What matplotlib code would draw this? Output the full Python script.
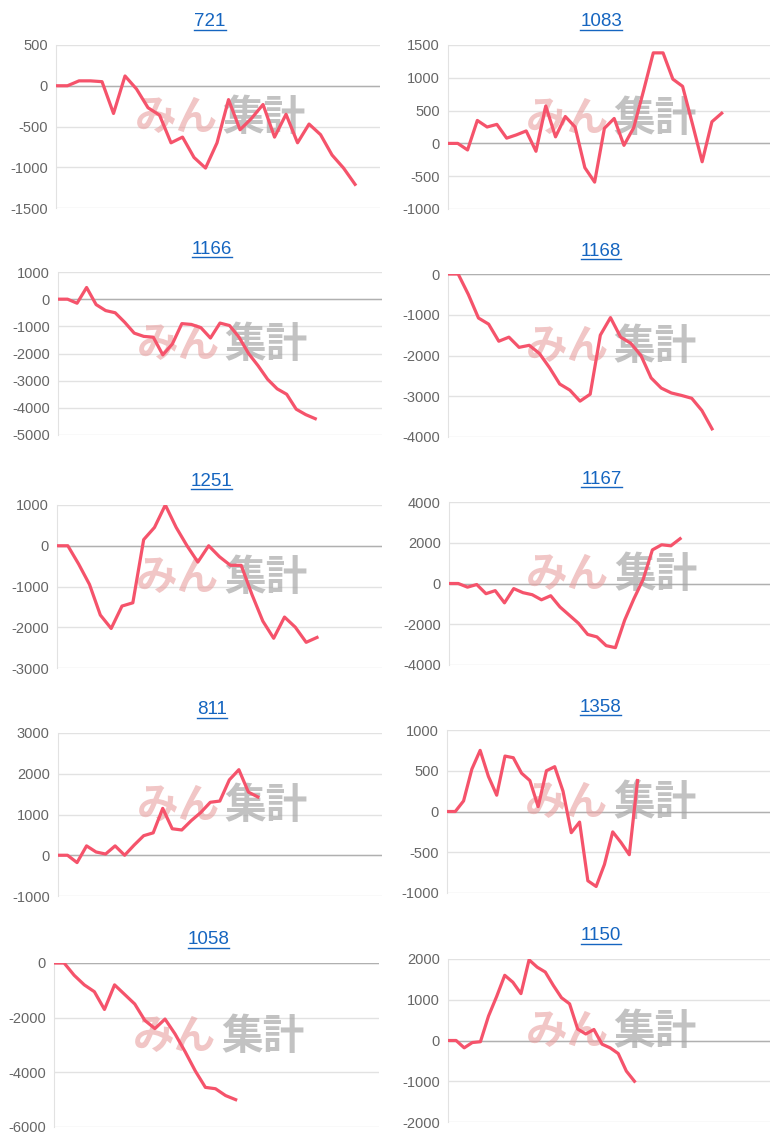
import matplotlib.pyplot as plt
from matplotlib.lines import Line2D

plt.rcParams['font.family'] = ['Liberation Sans', 'Noto Sans CJK JP', 'DejaVu Sans']
plt.rcParams['axes.unicode_minus'] = False

# 各グラフのタイトルと値
titles = ["721", "1083", "1166", "1168", "1251", "1167", "811", "1358", "1058", "1150"]

v721 = [0, 0, 60, 60, 50, -340, 120, -40, -270, -360, -700, -630, -880, -1010, -700,
        -170, -540, -400, -230, -630, -350, -700, -470, -600, -850, -1010, -1210]
v1083 = [0, 0, -100, 350, 250, 290, 80, 130, 190, -120, 570, 100, 410, 250, -370, -590,
         230, 380, -30, 240, 800, 1380, 1380, 980, 870, 300, -280, 330, 460]
v1166 = [0, 0, -150, 430, -200, -420, -500, -850, -1250, -1370, -1400, -2050, -1650, -900,
         -930, -1050, -1430, -880, -970, -1400, -2000, -2450, -2950, -3300, -3500, -4050,
         -4250, -4400]
v1168 = [0, 0, -500, -1080, -1230, -1650, -1550, -1800, -1750, -1950, -2300, -2700, -2850,
         -3120, -2950, -1500, -1070, -1550, -1700, -2000, -2550, -2800, -2920, -2980, -3050,
         -3350, -3800]
v1251 = [0, 0, -450, -950, -1700, -2030, -1480, -1400, 150, 450, 1000, 450, 0, -400, 0,
         -270, -480, -480, -1200, -1850, -2270, -1750, -2000, -2370, -2250]
v1167 = [0, 0, -180, -50, -500, -350, -950, -250, -450, -550, -800, -600, -1150, -1550,
         -1950, -2500, -2620, -3050, -3150, -1800, -750, 200, 1650, 1900, 1850, 2200]
v811 = [0, 0, -180, 230, 80, 30, 230, 0, 250, 480, 550, 1150, 650, 620, 850, 1050, 1300,
        1330, 1850, 2100, 1550, 1430]
v1358 = [0, 0, 130, 520, 750, 430, 200, 680, 660, 470, 380, 60, 500, 550, 250, -260, -130,
         -850, -920, -650, -250, -380, -530, 380]
v1058 = [0, 0, -450, -800, -1050, -1700, -800, -1150, -1500, -2100, -2400, -2050, -2600,
         -3250, -3950, -4550, -4600, -4850, -5000]
v1150 = [0, 0, -180, -50, -30, 600, 1080, 1600, 1430, 1150, 1980, 1800, 1680, 1350, 1050,
         900, 280, 160, 270, -90, -180, -320, -750, -1000]

series = [v721, v1083, v1166, v1168, v1251, v1167, v811, v1358, v1058, v1150]
yranges = [(-1500, 500, 500), (-1000, 1500, 500), (-5000, 1000, 1000), (-4000, 0, 1000),
           (-3000, 1000, 1000), (-4000, 4000, 2000), (-1000, 3000, 1000), (-1000, 1000, 500),
           (-6000, 0, 2000), (-2000, 2000, 1000)]
# 最後の点が横軸のどこまで来るか
end_frac = [0.923, 0.85, 0.794, 0.82, 0.80, 0.72, 0.617, 0.59, 0.559, 0.579]

W, H = 777, 1140
fig = plt.figure(figsize=(W / 100, H / 100), dpi=100)

# 軸の位置 (ピクセル): left, top, right, bottom
boxes = [(56, 45, 380, 208), (448, 45, 770, 209),
         (58, 272, 382, 435), (448, 274, 770, 437),
         (57, 505, 382, 668), (449, 502, 770, 665),
         (58, 733, 382, 896), (447, 730, 770, 893),
         (54, 963, 379, 1127), (448, 959, 770, 1122)]

red = '#f5536b'
titles_txt = []
for i in range(10):
    l, t, r, b = boxes[i]
    ax = fig.add_axes([l / W, 1 - b / H, (r - l) / W, (b - t) / H])
    vals = series[i]
    n = len(vals)
    ax.plot(range(n), vals, color=red, lw=2.3, solid_joinstyle='round', zorder=3)
    ax.set_xlim(0, (n - 1) / end_frac[i])
    lo, hi, st = yranges[i]
    ax.set_ylim(lo, hi)
    ax.set_yticks(range(lo, hi + 1, st))
    ax.set_xticks([])
    ax.grid(axis='y', color='#e2e2e2', lw=1)
    ax.axhline(0, color='#b0b0b0', lw=1, zorder=1)
    for s in ['top', 'right', 'bottom']:
        ax.spines[s].set_visible(False)
    ax.spines['left'].set_color('#e2e2e2')
    ax.tick_params(axis='y', length=0, labelsize=10.5, labelcolor='#666666', pad=6)
    ax.set_axisbelow(True)
    # ウォーターマーク
    ax.text(0.5, 0.55, 'みん', transform=ax.transAxes, ha='right', va='center',
            fontsize=30, fontweight='bold', color='#e8a0a0', alpha=0.6, style='italic',
            family=['Noto Sans CJK JP'], zorder=2)
    ax.text(0.515, 0.55, '集計', transform=ax.transAxes, ha='left', va='center',
            fontsize=30, fontweight='bold', color='#a8a8a8', alpha=0.7, style='italic',
            family=['Noto Sans CJK JP'], zorder=2)
    tx = fig.text(((l + r) / 2 - 8) / W, 1 - (t - 23) / H, titles[i], ha='center',
                  va='center', fontsize=13.5, color='#1565c0')
    titles_txt.append(tx)

fig.canvas.draw()
renderer = fig.canvas.get_renderer()
for tx in titles_txt:
    bb = tx.get_window_extent(renderer)
    y = (bb.y0 + 1) / H
    fig.add_artist(Line2D([bb.x0 / W, bb.x1 / W], [y, y], color='#1565c0', lw=1,
                          transform=fig.transFigure))

fig.savefig('out.png', dpi=100)
